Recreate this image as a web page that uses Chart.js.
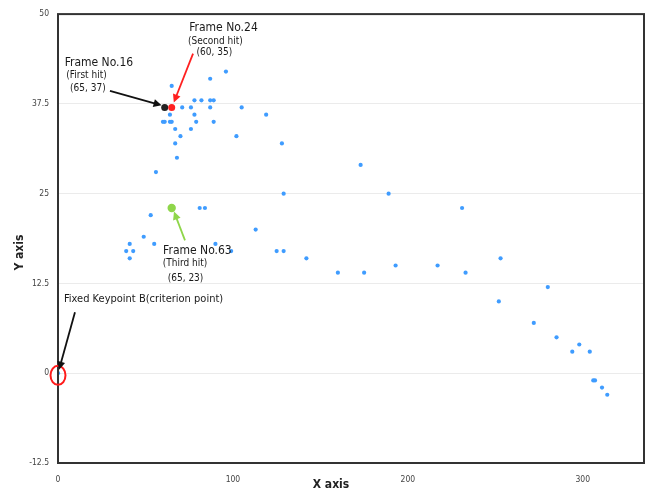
<!DOCTYPE html>
<html>
<head>
<meta charset="utf-8">
<script src="https://cdn.jsdelivr.net/npm/chart.js@4.4.1/dist/chart.umd.min.js"></script>
<style>
  html, body { margin: 0; padding: 0; background: #fff; }
  #caixa { width: 651px; height: 491px; }
</style>
</head>
<body>
<div id="caixa"><canvas id="grafico"></canvas></div>
<script>
(function () {
  "use strict";

  // ---------- Dados ----------
  var pontosX = [0, 96, 87, 65, 71, 76, 78, 82, 87, 89, 87, 105, 119, 64, 78, 60, 61, 64, 65, 79, 89,
    67, 76, 70, 102, 67, 128, 68, 56, 129, 81, 84, 53, 113, 49, 41, 55, 90, 39, 43, 99, 125, 129, 41, 142,
    173, 189, 231, 160, 175, 193, 217, 233, 253, 252, 280, 272, 285, 298, 294, 304, 306, 307, 311, 314];
  var pontosY = [0, 42, 41, 40, 37, 37, 38, 38, 38, 38, 37, 37, 36, 36, 36, 35, 35, 35, 35, 35, 35,
    34, 34, 33, 33, 32, 32, 30, 28, 25, 23, 23, 22, 20, 19, 18, 18, 18, 17, 17, 17, 17, 17, 16, 16,
    29, 25, 23, 14, 14, 15, 15, 14, 16, 10, 12, 7, 5, 4, 3, 3, -1, -1, -2, -3];

  // Frames destacados: No.16 (preto), No.24 (vermelho), No.63 (verde)
  var hitsX = [61, 65, 65];
  var hitsY = [37, 37, 23];
  var hitsCores = ["#222222", "#ff2020", "#8fd64a"];
  var hitsRaio = [3.5, 3.5, 4.2];

  var xMin = 0, xMax = 335, xPasso = 100;
  var yMin = -12.5, yMax = 50, yPasso = 12.5;

  function pares(xs, ys) {
    return xs.map(function (x, i) { return { x: x, y: ys[i] }; });
  }

  var FONTE = "'DejaVu Sans Condensed', 'DejaVu Sans', sans-serif";

  // ---------- Anotações (em coordenadas dos dados) ----------
  var textos = [
    { t: "Frame No.16", x: 23.4, y: 43.2, s: 12 },
    { t: "(First hit)", x: 16.3, y: 41.4, s: 10 },
    { t: "(65, 37)", x: 17.1, y: 39.6, s: 10 },
    { t: "Frame No.24", x: 94.6, y: 48.1, s: 12 },
    { t: "(Second hit)", x: 90, y: 46.25, s: 10 },
    { t: "(60, 35)", x: 89.4, y: 44.6, s: 10 },
    { t: "Frame No.63", x: 79.7, y: 17.1, s: 12 },
    { t: "(Third hit)", x: 72.6, y: 15.3, s: 10 },
    { t: "(65, 23)", x: 72.9, y: 13.2, s: 10 },
    { t: "Fixed Keypoint B(criterion point)", x: 48.9, y: 10.3, s: 11 }
  ];
  var setas = [
    { de: [29.7, 39.3], para: [59.2, 37.3], cor: "#111" },
    { de: [77.2, 44.5], para: [66.2, 37.7], cor: "#ff2020" },
    { de: [72.6, 18.5], para: [66.3, 22.5], cor: "#8fd64a" },
    { de: [9.7, 8.5], para: [0.6, 0.5], cor: "#111" }
  ];

  function seta(ctx, x1, y1, x2, y2, cor) {
    var ang = Math.atan2(y2 - y1, x2 - x1);
    var cab = 8;
    ctx.strokeStyle = cor; ctx.fillStyle = cor; ctx.lineWidth = 1.8;
    ctx.beginPath();
    ctx.moveTo(x1, y1);
    ctx.lineTo(x2 - Math.cos(ang) * cab * 0.8, y2 - Math.sin(ang) * cab * 0.8);
    ctx.stroke();
    ctx.beginPath();
    ctx.moveTo(x2, y2);
    ctx.lineTo(x2 - cab * Math.cos(ang) + 4 * Math.sin(ang), y2 - cab * Math.sin(ang) - 4 * Math.cos(ang));
    ctx.lineTo(x2 - cab * Math.cos(ang) - 4 * Math.sin(ang), y2 - cab * Math.sin(ang) + 4 * Math.cos(ang));
    ctx.closePath();
    ctx.fill();
  }

  var anotacoes = {
    id: "anotacoes",
    afterDraw: function (chart) {
      var ctx = chart.ctx, a = chart.chartArea;
      var sx = chart.scales.x, sy = chart.scales.y;
      ctx.save();
      // moldura do gráfico
      ctx.strokeStyle = "#333"; ctx.lineWidth = 2;
      ctx.strokeRect(a.left, a.top, a.right - a.left, a.bottom - a.top);

      // títulos dos eixos
      ctx.fillStyle = "#222";
      ctx.font = "bold 12px " + FONTE;
      ctx.textAlign = "center"; ctx.textBaseline = "middle";
      ctx.fillText("X axis", (a.left + a.right) / 2 - 20, a.bottom + 22);
      ctx.save();
      ctx.translate(a.left - 38, (a.top + a.bottom) / 2 + 14);
      ctx.rotate(-Math.PI / 2);
      ctx.fillText("Y axis", 0, 0);
      ctx.restore();

      // círculo vermelho no ponto de referência
      ctx.strokeStyle = "#ff1a1a"; ctx.lineWidth = 2;
      ctx.beginPath();
      ctx.ellipse(sx.getPixelForValue(0), sy.getPixelForValue(-0.3), 7.5, 9.5, 0, 0, Math.PI * 2);
      ctx.stroke();

      setas.forEach(function (s) {
        seta(ctx, sx.getPixelForValue(s.de[0]), sy.getPixelForValue(s.de[1]),
          sx.getPixelForValue(s.para[0]), sy.getPixelForValue(s.para[1]), s.cor);
      });

      ctx.fillStyle = "#1a1a1a";
      textos.forEach(function (t) {
        ctx.font = t.s + "px " + FONTE;
        ctx.fillText(t.t, sx.getPixelForValue(t.x), sy.getPixelForValue(t.y));
      });
      ctx.restore();
    }
  };

  new Chart(document.getElementById("grafico"), {
    type: "scatter",
    data: {
      datasets: [
        { data: pares(hitsX, hitsY), backgroundColor: hitsCores, borderWidth: 0,
          pointRadius: hitsRaio },
        { data: pares(pontosX, pontosY), backgroundColor: "#3f9cff", borderWidth: 0,
          pointRadius: 2.1 }
      ]
    },
    options: {
      responsive: true, maintainAspectRatio: false, animation: false,
      layout: { padding: { top: 13, right: 7, left: 0, bottom: 0 } },
      plugins: { legend: { display: false }, tooltip: { enabled: false } },
      scales: {
        x: {
          type: "linear", min: xMin, max: xMax,
          afterFit: function (s) { s.height = 28; },
          afterBuildTicks: function (s) {
            s.ticks = s.ticks.filter(function (t) { return t.value % xPasso === 0; });
          },
          grid: { display: false },
          border: { display: false },
          ticks: { stepSize: xPasso, padding: 4, color: "#444",
            font: { size: 8.5, family: FONTE } }
        },
        y: {
          min: yMin, max: yMax,
          afterFit: function (s) { s.width = 58; },
          grid: { color: "#ebebeb", lineWidth: 1, drawTicks: false },
          border: { display: false },
          ticks: { stepSize: yPasso, padding: 9, color: "#444",
            font: { size: 8.5, family: FONTE } }
        }
      }
    },
    plugins: [anotacoes]
  });
})();
</script>
</body>
</html>
